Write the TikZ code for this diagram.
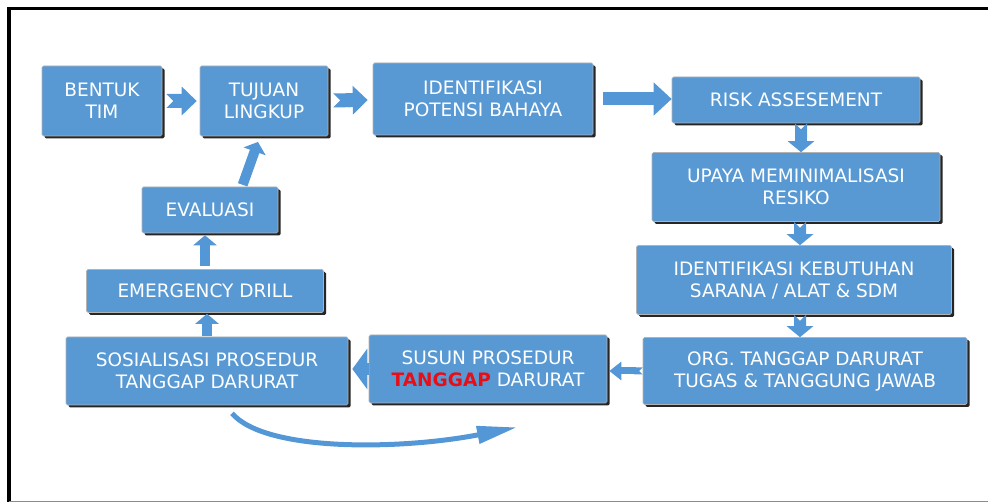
\documentclass[tikz,border=0pt]{standalone}
\usepackage{fontspec}
\newfontfamily\boxfont{DejaVu Sans}
\usetikzlibrary{
  arrows.meta,
  shadows,
  positioning,
}
\definecolor{boxblue}{RGB}{88,153,212}
\definecolor{flowblue}{RGB}{84,151,214}
\definecolor{hotred}{RGB}{232,14,22}

\begin{document}
\begin{tikzpicture}[
  x=1pt, y=-1pt,
  stepbox/.style={draw=black!30, line width=0.6pt, fill=boxblue, text=white,
    align=center, rounded corners=1.5pt, inner sep=0pt,
    font=\boxfont\fontsize{18.5}{22}\selectfont,
    drop shadow={shadow xshift=2.5pt, shadow yshift=-2.5pt, fill=black!85, opacity=1}},
  flowarrow/.style={draw=flowblue, line width=14pt,
    {Triangle Cap[reversed]}-{Triangle[length=15pt, width=28pt]}},
  downarrow/.style={draw=flowblue, line width=12pt,
    {Triangle Cap[reversed]}-{Triangle[length=11pt, width=26pt]}},
  uparrow/.style={draw=flowblue, line width=10pt,
    -{Triangle[length=10pt, width=23pt]}},
]
\useasboundingbox (0,0) rectangle (988,502);
% frame
\draw[line width=3.5pt] (7,8.5) -- (988,8.5);
\draw[line width=3.5pt] (9,7) -- (9,502);
\draw[black!45, line width=1pt] (9,501) -- (988,501);

% top row
\node[stepbox, minimum width=120pt, minimum height=70pt] (bentuk) at (102,101) {BENTUK\\TIM};
\node[stepbox, minimum width=128pt, minimum height=70pt] (tujuan) at (264,101) {TUJUAN\\LINGKUP};
\node[stepbox, minimum width=220pt, minimum height=72pt] (identpot) at (483,99) {IDENTIFIKASI\\POTENSI BAHAYA};
\node[stepbox, minimum width=248pt, minimum height=46pt] (risk) at (796,100) {RISK ASSESEMENT};

% right column
\node[stepbox, minimum width=288pt, minimum height=69pt] (upaya) at (796,187) {UPAYA MEMINIMALISASI\\RESIKO};
\node[stepbox, minimum width=315pt, minimum height=69pt] (butuh) at (794,280) {IDENTIFIKASI KEBUTUHAN\\SARANA / ALAT \& SDM};
\node[stepbox, minimum width=324pt, minimum height=67pt] (org) at (805,371) {ORG. TANGGAP DARURAT\\TUGAS \& TANGGUNG JAWAB};

% bottom row and left column
\node[stepbox, minimum width=238pt, minimum height=68pt] (susun) at (488,369) {SUSUN PROSEDUR\\\textcolor{hotred}{\bfseries TANGGAP} DARURAT};
\node[stepbox, minimum width=282pt, minimum height=68pt] (sosial) at (207,371) {SOSIALISASI PROSEDUR\\TANGGAP DARURAT};
\node[stepbox, minimum width=237pt, minimum height=43pt] (drill) at (205,291) {EMERGENCY DRILL};
\node[stepbox, minimum width=136pt, minimum height=46pt] (evaluasi) at (210,210) {EVALUASI};

% connectors
\draw[flowarrow, shorten <=4pt, shorten >=3pt] (bentuk) -- (tujuan);
\draw[flowarrow, shorten <=5pt, shorten >=5pt] (tujuan) -- (identpot);
\draw[flowarrow, line width=13pt, -{Triangle[length=18pt, width=32pt]}, shorten <=10pt, shorten >=0pt] (identpot.east) -- (identpot.east -| risk.west);
\draw[downarrow] ([xshift=5pt]risk.south) -- ([xshift=5pt]risk.south |- upaya.north);
\draw[downarrow] ([xshift=4pt]upaya.south) -- ([xshift=4pt]upaya.south |- butuh.north);
\draw[downarrow] ([xshift=6pt]butuh.south) -- ([xshift=6pt]butuh.south |- org.north);
\draw[draw=flowblue, line width=7pt, {Triangle Cap[reversed]}-{Triangle[length=12pt, width=18pt]}, shorten >=2pt] (org.west) -- (org.west -| susun.east);
\draw[draw=flowblue, line width=12pt, -{Triangle[length=15pt, width=40pt]}, shorten >=4pt] (susun.west) -- (susun.west -| sosial.east);
\draw[uparrow, shorten <=1pt, shorten >=1pt] (sosial.north) -- (sosial.north |- drill.south);
\draw[uparrow, shorten <=3pt, shorten >=2pt] (drill.north) -- (drill.north |- evaluasi.south);
\draw[uparrow, shorten <=2pt, shorten >=6pt] ([xshift=32pt]evaluasi.north) -- ([xshift=-4pt]tujuan.south);

% return sweep under the bottom row
\coordinate (sweepS) at ([xshift=25pt, yshift=-8pt]sosial.south);
\coordinate (sweepE) at ([xshift=29pt, yshift=-24pt]susun.south);
\draw[draw=flowblue, line width=5pt, -{Triangle[length=40pt, width=17pt]}] (sweepS) .. controls (265,452) and (400,450) .. (sweepE);
\end{tikzpicture}
\end{document}
